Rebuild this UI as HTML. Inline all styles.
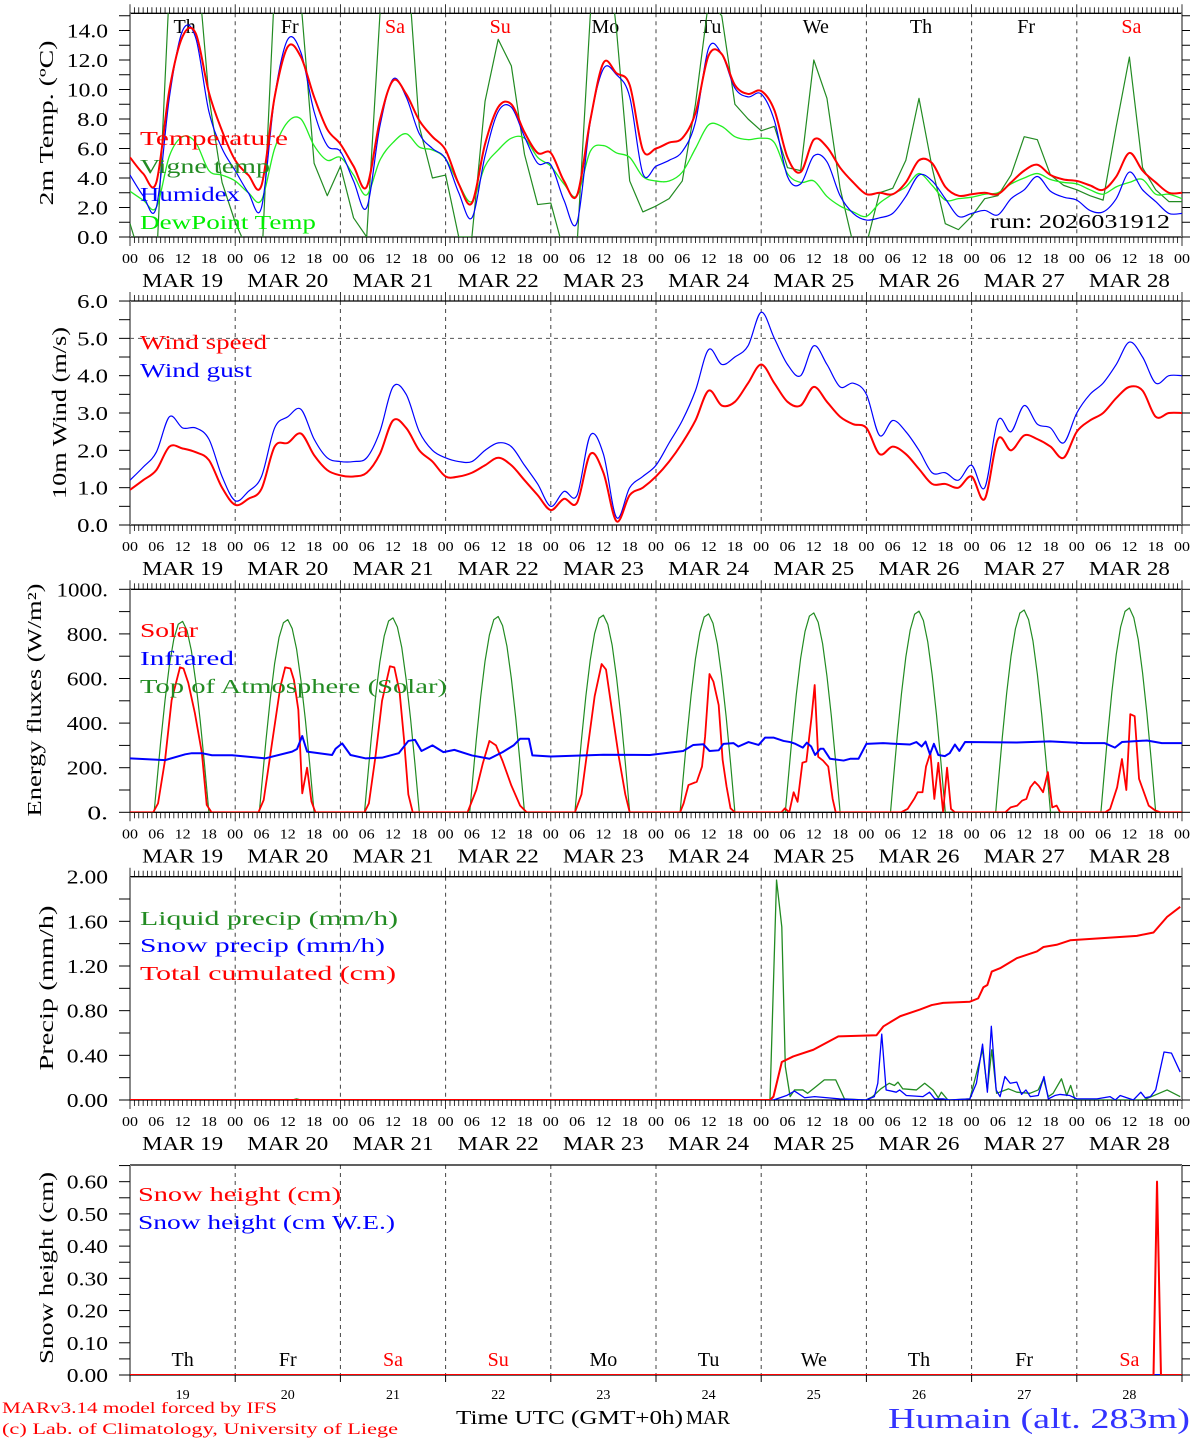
<!DOCTYPE html>
<html><head><meta charset="utf-8"><title>Humain forecast</title>
<style>
html,body{margin:0;padding:0;background:#fff;}
svg{display:block;font-family:"Liberation Serif","DejaVu Serif",serif;}
</style></head>
<body>
<svg id="chart" width="1194" height="1440" viewBox="0 0 1194 1440" xmlns="http://www.w3.org/2000/svg">
<defs>
<clipPath id="c1"><rect x="130" y="13.3" width="1052" height="223.7"/></clipPath>
<clipPath id="c2"><rect x="130" y="301" width="1052" height="224"/></clipPath>
<clipPath id="c3"><rect x="130" y="589.3" width="1052" height="223"/></clipPath>
<clipPath id="c4"><rect x="130" y="876.7" width="1052" height="223.3"/></clipPath>
<clipPath id="c5"><rect x="130" y="1165" width="1052" height="210"/></clipPath>
</defs>
<g id="axes"></g>
<g id="marks"></g>

<text transform="translate(53,123) rotate(-90)" text-anchor="middle" font-size="20" textLength="165" lengthAdjust="spacingAndGlyphs">2m Temp. (ºC)</text>
<text transform="translate(66,413) rotate(-90)" text-anchor="middle" font-size="20" textLength="172" lengthAdjust="spacingAndGlyphs">10m Wind (m/s)</text>
<text transform="translate(41,700) rotate(-90)" text-anchor="middle" font-size="20" textLength="233" lengthAdjust="spacingAndGlyphs">Energy fluxes (W/m²)</text>
<text transform="translate(53,988) rotate(-90)" text-anchor="middle" font-size="20" textLength="165" lengthAdjust="spacingAndGlyphs">Precip (mm/h)</text>
<text transform="translate(53,1268) rotate(-90)" text-anchor="middle" font-size="20" textLength="192" lengthAdjust="spacingAndGlyphs">Snow height (cm)</text>

<g font-size="20">
<text x="140" y="145" fill="#ff0000" textLength="148" lengthAdjust="spacingAndGlyphs">Temperature</text>
<text x="140" y="173" fill="#228b22" textLength="130" lengthAdjust="spacingAndGlyphs">Vigne temp</text>
<text x="140" y="201" fill="#0000ff" textLength="100" lengthAdjust="spacingAndGlyphs">Humidex</text>
<text x="140" y="229" fill="#00ee00" textLength="176" lengthAdjust="spacingAndGlyphs">DewPoint Temp</text>
<text x="990" y="228" fill="#000" textLength="180" lengthAdjust="spacingAndGlyphs">run: 2026031912</text>
<text x="140" y="349" fill="#ff0000" textLength="127" lengthAdjust="spacingAndGlyphs">Wind speed</text>
<text x="140" y="377" fill="#0000ff" textLength="112" lengthAdjust="spacingAndGlyphs">Wind gust</text>
<text x="140" y="637" fill="#ff0000" textLength="58" lengthAdjust="spacingAndGlyphs">Solar</text>
<text x="140" y="665" fill="#0000ff" textLength="94" lengthAdjust="spacingAndGlyphs">Infrared</text>
<text x="140" y="693" fill="#228b22" textLength="307" lengthAdjust="spacingAndGlyphs">Top of Atmosphere (Solar)</text>
<text x="140" y="925" fill="#228b22" textLength="258" lengthAdjust="spacingAndGlyphs">Liquid precip (mm/h)</text>
<text x="140" y="952" fill="#0000ff" textLength="245" lengthAdjust="spacingAndGlyphs">Snow precip (mm/h)</text>
<text x="140" y="980" fill="#ff0000" textLength="256" lengthAdjust="spacingAndGlyphs">Total cumulated (cm)</text>
<text x="138" y="1201" fill="#ff0000" textLength="203" lengthAdjust="spacingAndGlyphs">Snow height (cm)</text>
<text x="138" y="1229" fill="#0000ff" textLength="257" lengthAdjust="spacingAndGlyphs">Snow height (cm W.E.)</text>
</g>

<text x="2" y="1413" font-size="16" fill="#ff0000" textLength="275" lengthAdjust="spacingAndGlyphs">MARv3.14 model forced by IFS</text>
<text x="2" y="1434" font-size="16" fill="#ff0000" textLength="396" lengthAdjust="spacingAndGlyphs">(c) Lab. of Climatology, University of Liege</text>
<text x="456" y="1424" font-size="20" fill="#000" textLength="227" lengthAdjust="spacingAndGlyphs">Time UTC (GMT+0h)</text>
<text x="686" y="1424" font-size="20" fill="#000" textLength="44" lengthAdjust="spacingAndGlyphs">MAR</text>
<text x="888" y="1428" font-size="29" fill="#3333ff" textLength="302" lengthAdjust="spacingAndGlyphs">Humain (alt. 283m)</text>
</svg>

<script>
// ---------- DATA ----------
const weekdays = ["Th","Fr","Sa","Su","Mo","Tu","We","Th","Fr","Sa"];
const dayNumbers = ["19","20","21","22","23","24","25","26","27","28"];
const hourLabels = ["00","06","12","18"];
const temperature = [5.4,4.3,3.7,10.0,13.6,13.8,9.8,7.2, 5.2,4.2,3.5,9.5,12.9,12.2,9.5,7.3, 6.3,4.8,3.4,7.9,10.6,9.7,7.9,6.8, 5.9,3.6,2.3,6.3,8.8,9.0,7.1,5.7, 5.7,3.8,2.85,7.9,11.8,11.1,10.3,5.9, 6.0,6.4,6.7,8.4,12.3,12.4,10.3,9.7, 9.9,8.6,5.4,4.4,6.6,6.1,4.7,3.7, 2.9,3.0,2.9,3.7,5.2,5.0,3.4,2.8, 2.9,3.0,2.9,3.7,4.5,4.9,4.2,3.9, 3.8,3.5,3.2,4.1,5.7,4.5,3.7,3.0, 3.0];
const vigneTemp = [0.9,-2,-2,17,24,20,9.5,3.7, 1.0,-1,-2,17,24,16,5.0,2.8, 4.8,1.3,0,15,24,20,7.5,4.0, 4.2,0,0,9.2,13.4,11.6,5.6,2.2, 2.3,-1,-0.5,15,22,14,3.8,1.7, 2.1,2.6,3.8,9.0,16,15,9.0,8.0, 7.2,7.5,4.7,4.5,12,9.4,3.3,-0.5, -0.5,3.0,3.3,5.2,9.4,4.7,0.9,0.5, 1.4,2.6,2.8,4.2,6.8,6.6,4.2,3.5, 3.2,2.8,2.5,7.5,12.2,4.7,3.2,2.4, 2.4];
const humidex = [4.2,2.8,2.0,9.5,14.0,13.5,8.5,6.0, 4.5,3.0,2.0,9.5,13.4,12.5,8.5,6.2, 5.8,3.8,2.0,7.5,10.7,9.5,7.0,6.0, 5.3,3.0,1.3,5.5,8.5,8.8,6.8,5.0, 4.9,2.5,1.0,7.8,11.4,11.0,9.5,4.3, 4.8,5.2,5.8,7.8,12.8,12.4,10.1,9.5, 9.7,7.9,4.1,3.6,5.5,5.1,2.8,1.6, 1.15,1.3,1.6,2.75,4.2,3.8,2.6,1.4, 1.6,1.8,1.5,2.6,3.2,4.1,3.1,2.7, 2.5,1.8,1.7,2.6,4.4,3.2,2.4,1.6, 1.6];
const dewPoint = [3.1,2.5,2.0,5.5,6.8,6.4,4.5,4.2, 3.8,3.0,2.5,6.0,7.8,8.0,6.2,5.2, 5.4,4.2,2.85,5.2,6.4,7.0,6.1,5.9, 5.3,3.6,2.4,4.8,5.9,6.7,6.7,5.4, 4.8,3.6,2.8,5.8,6.2,5.7,5.4,4.1, 3.8,3.8,4.4,6.0,7.6,7.5,6.8,6.6, 6.7,6.4,4.3,3.7,3.8,2.75,2.1,1.7, 1.4,2.3,2.9,3.4,4.3,3.5,2.5,2.6, 2.7,2.9,3.0,3.6,4.0,4.3,3.9,3.7, 3.6,3.2,2.9,3.4,3.7,3.9,2.9,2.9, 2.6];
const windSpeed = [0.94,1.2,1.47,2.1,2.05,1.95,1.74,1.0, 0.54,0.7,0.97,2.1,2.2,2.45,1.87,1.47, 1.33,1.3,1.4,1.9,2.8,2.6,2.0,1.7, 1.3,1.3,1.4,1.6,1.8,1.6,1.2,0.8, 0.4,0.7,0.6,1.9,1.4,0.1,0.8,1.0, 1.3,1.7,2.2,2.8,3.6,3.2,3.3,3.8, 4.3,3.8,3.3,3.2,3.7,3.3,2.9,2.7, 2.6,1.9,2.1,1.9,1.5,1.1,1.1,1.0, 1.3,0.7,2.3,2.0,2.4,2.3,2.1,1.8, 2.5,2.8,3.0,3.4,3.7,3.6,2.9,3.0, 3.0];
const windGust = [1.2,1.55,1.95,2.9,2.6,2.6,2.3,1.3, 0.65,0.9,1.3,2.6,2.9,3.1,2.3,1.8, 1.7,1.7,1.8,2.5,3.7,3.5,2.5,2.0, 1.8,1.7,1.7,2.0,2.2,2.1,1.6,1.1, 0.5,0.9,0.8,2.4,1.9,0.2,1.0,1.3, 1.6,2.2,2.8,3.6,4.7,4.3,4.5,4.8, 5.7,5.0,4.3,4.0,4.8,4.3,3.7,3.8, 3.5,2.4,2.8,2.5,2.0,1.4,1.4,1.2, 1.6,1.0,2.8,2.5,3.2,2.7,2.6,2.2, 3.0,3.5,3.8,4.3,4.9,4.5,3.8,4.0, 4.0];
const solarHours = [0,5.3,6.4,8,9.5,11.4,12.2,13.3,14.8,16.4,17.5,18.6, 29.3,30.5,32.4,34.3,35.4,36.6,37.4,38.4,39.3,40.4,41.4,42.3, 53.5,54.5,56,57.5,59.3,60.3,61.5,62.5,63.5,64.5, 77,79,80.5,82,83.5,85,87,89,90.5, 101.5,103,104.5,106,107.6,108.6,110,111.5,113,114, 125.5,126.3,127.4,129.3,130.5,131.2,132.2,133.1,134.3,135.2,136.1,137,138, 148.6,149.4,150.4,151.4,152.3,153.4,154.3,155.5,156.2,157,158.1,159.3,160.3,161, 175.9,177.4,178.9,179.7,180.8,181.6,182.6,183.5,184.4,185.5,186.4,187.3,188.2, 199.7,200.9,202.4,203.5,204.5,205.4,206.4,207.3,208.3,209.4,210.4,211.4,212.2, 222.5,223.6,225.2,226.3,227.3,228.2,229.2,230.2,232.4,233.9,235.1,240];
const solarValues = [0,0,40,235,503,650,645,580,445,266,33,0, 0,55,310,563,650,645,593,460,85,200,48,0, 0,40,250,500,655,650,540,330,80,0, 0,100,220,320,300,230,120,30,0, 0,80,300,520,665,640,450,250,80,0, 0,40,122,137,205,339,620,586,481,235,115,18,0, 0,18,0,90,47,222,228,429,571,249,232,205,60,0, 0,15,60,90,90,205,267,60,222,0,200,15,0, 0,22,30,52,60,112,137,119,90,180,22,30,0, 0,15,112,239,100,440,431,150,30,8,0,0];
const infraredHours = [0,8,12.6,14.1,16.4,18.7,23.3,30.9,37,38.1,39.3,40.4,46.1,46.9,48.4,50.3,53.7,57.5,61.3,63.5,65,66.5,69,71.5,74,78,82,85,87.5,89,91,91.8,96,108,118.6,126.2,128.5,130.8,132.2,134.3,135.4,137.7,138.8,141.1,143.4,144.9,146.8,149.1,150.6,151.8,153.5,154.4,155.4,156.3,157.5,158.2,159.7,162.8,164.3,166.2,168,171.8,177.9,179.4,180.6,181.5,182.5,183.4,184.4,185.9,187,188.2,189.2,190.5,202.3,209.9,217.5,222.4,224.7,226.3,232,235.4,240];
const infraredValues = [242,234,260,265,265,256,256,242,272,284,342,272,257,285,309,257,242,245,265,320,325,275,300,270,280,255,240,270,300,330,330,255,250,258,257,275,302,305,275,278,307,310,295,315,302,335,335,320,315,307,290,312,295,257,285,285,240,232,240,240,307,310,304,315,295,317,260,307,257,252,265,304,275,315,313,318,310,310,290,315,322,310,310];
const toaHoursOfDay = [5.5,6,7,8,9,10,11,12,13,14,15,16,17,18];
const toaValues = [
 [0,107,316,504,662,777,843,856,816,725,585,414,214,0],
 [0,108,319,509,668,784,850,864,824,732,591,417,216,0],
 [0,109,322,514,674,791,858,872,831,739,596,421,218,0],
 [0,110,324,517,678,796,864,878,837,744,600,424,219,0],
 [0,111,326,521,683,802,870,884,843,749,604,427,221,0],
 [0,112,328,524,688,807,876,890,848,754,608,430,222,0],
 [0,112,330,527,691,811,880,894,852,757,611,432,223,0],
 [0,113,333,532,697,818,888,902,860,764,617,436,225,0],
 [0,114,335,534,701,823,893,907,864,768,620,438,226,0],
 [0,115,338,540,708,831,901,916,873,776,626,442,229,0]];
const cumHours = [0,146,146.8,148.7,151.3,155.9,161.6,170.3,171.9,175.7,180.2,182.9,185.5,191.6,193.5,194.7,195.6,196.6,198.5,202.3,206.9,208.4,211.4,214.5,229.7,233.5,236.6,239.6];
const cumValues = [0,0,0.03,0.34,0.39,0.45,0.57,0.58,0.66,0.75,0.81,0.85,0.87,0.88,0.91,1.01,1.03,1.15,1.18,1.27,1.33,1.37,1.39,1.43,1.47,1.50,1.64,1.73];
const liquidHours = [0,37,38,39,146,147.5,148.7,149.5,150.6,151.6,153.5,154.6,156.5,158.4,161,163,167.9,169.4,171.3,173.2,174.4,175.2,176.3,179.4,181.3,183.2,184.4,185.1,186.6,191.6,194.5,195.6,196.6,197.7,200.4,202.3,205.3,207.2,208.4,209.5,210.6,212.5,213.7,214.6,215.6,231.2,236.6,239.6];
const liquidValues = [0,0,0.01,0,0,1.97,1.55,0.30,0.03,0.09,0.09,0.06,0.12,0.18,0.18,0.01,0,0.03,0.1,0.15,0.13,0.16,0.1,0.09,0.15,0.09,0.02,0.07,0,0.01,0.45,0.09,0.45,0.06,0.1,0.07,0.06,0.09,0.19,0.03,0.06,0.19,0.04,0.13,0,0,0.09,0.03];
const snowHours = [0,146.8,149.8,151.6,153.9,156.2,161.9,167.9,169.8,170.6,171.5,172.5,174.8,175.6,177.1,180.9,182.4,183.6,185.5,187,191.6,193.1,194.5,195.6,196.5,197.6,198.5,199.6,200.8,202.3,203.4,204.4,205.4,207.2,208.5,209.5,211,212.2,214.4,216,220.6,223.6,224.8,225.9,228.9,230.6,231.6,232.8,234,235.9,237.6,239.6];
const snowValues = [0,0,0.04,0.08,0.02,0.03,0.01,0,0.03,0.15,0.59,0.09,0.07,0.09,0.04,0.03,0.07,0.01,0.01,0,0.01,0.15,0.5,0.07,0.66,0.09,0.03,0.21,0.15,0.16,0.05,0.09,0.03,0.04,0.21,0.01,0.04,0.05,0.04,0.01,0.01,0.03,0,0.04,0,0.07,0.02,0.03,0.09,0.43,0.42,0.25];
const snowHeightHours = [0,233.5,234.3,235.2,240];
const snowHeightValues = [0,0,0.6,0,0];
const snowWEHours = [0,240];
const snowWEValues = [0,0];

// ---------- LAYOUT ----------
const X0 = 130, X1 = 1182, NDAYS = 10;
const DAYW = (X1 - X0) / NDAYS;
function xOf(h){ return X0 + h * DAYW / 24; }
const panels = [
 {top:13.3, bot:237, zero:237, ppu:14.75, clip:"c1", ticks:[0,2,4,6,8,10,12,14], minor:1, fmt:v=>v.toFixed(1), name:"temp"},
 {top:301, bot:525, zero:525, ppu:37.33, clip:"c2", ticks:[0,1,2,3,4,5,6], minor:0.5, fmt:v=>v.toFixed(1), name:"wind"},
 {top:589.3, bot:812.3, zero:812.3, ppu:0.223, clip:"c3", ticks:[0,200,400,600,800,1000], minor:100, fmt:v=>v.toFixed(0)+".", name:"energy"},
 {top:876.7, bot:1100, zero:1100, ppu:111.67, clip:"c4", ticks:[0,0.4,0.8,1.2,1.6,2.0], minor:0.2, fmt:v=>v.toFixed(2), name:"precip"},
 {top:1165, bot:1375, zero:1375, ppu:322.2, clip:"c5", ticks:[0,0.1,0.2,0.3,0.4,0.5,0.6], minor:0.05, fmt:v=>v.toFixed(2), name:"snow"}
];
function yOf(p, v){ return p.zero - v * p.ppu; }

const NS = "http://www.w3.org/2000/svg";
const axes = document.getElementById("axes");
const marks = document.getElementById("marks");
function mk(tag, attrs, parent){
  const e = document.createElementNS(NS, tag);
  for (const k in attrs) e.setAttribute(k, attrs[k]);
  parent.appendChild(e);
  return e;
}
function line(x1,y1,x2,y2,stroke,w,parent,dash){
  const a = {x1:x1,y1:y1,x2:x2,y2:y2,stroke:stroke,"stroke-width":w};
  if (dash) a["stroke-dasharray"] = dash;
  return mk("line", a, parent);
}
function txt(x,y,s,size,anchor,fill,parent,len){
  const a = {x:x,y:y,"font-size":size,"text-anchor":anchor,fill:fill};
  if (len){ a.textLength = len; a.lengthAdjust = "spacingAndGlyphs"; }
  const t = mk("text", a, parent);
  t.textContent = s;
  return t;
}

// ---------- AXES ----------
panels.forEach((p, pi) => {
  const g = mk("g", {}, axes);
  
  
  for (let d = 1; d < NDAYS; d++){
    const sep = line(xOf(d*24), p.top, xOf(d*24), p.bot, "#444", 1, g, "4,4");
    
    
  }
  const top = line(X0, p.top, X1, p.top, "#000", 1.3, g);
  
  
  const bot = line(X0, p.bot, X1, p.bot, "#000", 1.3, g);
  
  
  const l = line(X0, p.top, X0, p.bot, "#888", 2, g);
  
  
  const r = line(X1, p.top, X1, p.bot, "#888", 2, g);
  
  
  const vmax = (p.bot - p.top) / p.ppu;
  for (let v = 0; v <= vmax + 1e-6; v += p.minor){
    const y = yOf(p, v);
    line(X0-11, y, X0, y, "#000", 1, g);
    line(X1, y, X1+8, y, "#000", 1, g);
  }
  p.ticks.forEach(v => {
    const s = p.fmt(v);
    const t = txt(108, yOf(p, v) + 7, s, 20, "end", "#000", g, s.length * 10.3);
    
    
  });
  if (pi < 4){
    for (let h = 0; h <= NDAYS*24; h++){
      const x = xOf(h);
      const len = (h % 24 === 0) ? 9 : 6;
      line(x, p.top - len, x, p.top, "#000", 0.8, g);
      line(x, p.bot, x, p.bot + len, "#000", 0.8, g);
    }
    for (let h = 0; h <= NDAYS*24; h += 6){
      const t = txt(xOf(h), p.bot + 26, hourLabels[(h/6)%4], 14, "middle", "#000", g, 16);
      
      
    }
    for (let d = 0; d < NDAYS; d++){
      const t = txt(xOf(d*24+12), p.bot + 50, "MAR " + dayNumbers[d], 20, "middle", "#000", g, 81);
      
      
    }
  } else {
    for (let d = 0; d <= NDAYS; d++){
      line(xOf(d*24), p.bot, xOf(d*24), p.bot + 7, "#000", 1, g);
    }
    for (let d = 0; d < NDAYS; d++){
      const t = txt(xOf(d*24+12), p.bot + 24, dayNumbers[d], 14, "middle", "#000", g);
      
      
      const w = txt(xOf(d*24+12), 1366, weekdays[d], 20, "middle", (weekdays[d]==="Sa"||weekdays[d]==="Su") ? "#ff0000" : "#000", g);
      
      
    }
  }
});
weekdays.forEach((w, d) => {
  const t = txt(xOf(d*24+12)+2, 33, w, 20, "middle", (w==="Sa"||w==="Su") ? "#ff0000" : "#000", axes);
  
  
});
const ref = line(X0, yOf(panels[1], 5), X1, yOf(panels[1], 5), "#555", 1, axes, "4,4");



// ---------- SERIES ----------
function drawSeries(p, hours, values, color, width, name, smooth){
  const P = values.map((v, i) => [xOf(hours(i)), yOf(p, v)]);
  let d;
  if (smooth){
    d = "M" + P[0][0].toFixed(2) + "," + P[0][1].toFixed(2);
    for (let i = 0; i < P.length - 1; i++){
      const p0 = P[Math.max(0, i-1)], p1 = P[i], p2 = P[i+1], p3 = P[Math.min(P.length-1, i+2)];
      const c1x = p1[0] + (p2[0]-p0[0])/6, c1y = p1[1] + (p2[1]-p0[1])/6;
      const c2x = p2[0] - (p3[0]-p1[0])/6, c2y = p2[1] - (p3[1]-p1[1])/6;
      d += " C" + c1x.toFixed(2) + "," + c1y.toFixed(2) + " " + c2x.toFixed(2) + "," + c2y.toFixed(2) + " " + p2[0].toFixed(2) + "," + p2[1].toFixed(2);
    }
  } else {
    d = "M" + P.map(q => q[0].toFixed(2) + "," + q[1].toFixed(2)).join(" L");
  }
  const g = mk("g", {"clip-path":"url(#" + p.clip + ")"}, marks);
  const pl = mk("path", {d:d, fill:"none", stroke:color, "stroke-width":width, "stroke-linejoin":"round"}, g);
  
  
}
const every3 = i => i * 3;
drawSeries(panels[0], every3, vigneTemp, "#228b22", 1.2, "vigne-temp-line", false);
drawSeries(panels[0], every3, dewPoint, "#22ee22", 1.3, "dewpoint-line", true);
drawSeries(panels[0], every3, humidex, "#0000ff", 1.2, "humidex-line", true);
drawSeries(panels[0], every3, temperature, "#ff0000", 2, "temperature-line", true);
drawSeries(panels[1], every3, windGust, "#0000ff", 1.2, "wind-gust-line", true);
drawSeries(panels[1], every3, windSpeed, "#ff0000", 2, "wind-speed-line", true);
const toaH = [], toaV = [];
toaValues.forEach((row, d) => row.forEach((v, j) => { toaH.push(d*24 + toaHoursOfDay[j]); toaV.push(v); }));
toaH.unshift(0); toaV.unshift(0); toaH.push(240); toaV.push(0);
drawSeries(panels[2], i => toaH[i], toaV, "#228b22", 1.2, "toa-solar-line", false);
drawSeries(panels[2], i => solarHours[i], solarValues, "#ff0000", 1.8, "solar-line", false);
drawSeries(panels[2], i => infraredHours[i], infraredValues, "#0000ff", 2, "infrared-line", false);
drawSeries(panels[3], i => liquidHours[i], liquidValues, "#228b22", 1.3, "liquid-precip-line", false);
drawSeries(panels[3], i => snowHours[i], snowValues, "#0000ff", 1.3, "snow-precip-line", false);
drawSeries(panels[3], i => cumHours[i], cumValues, "#ff0000", 2, "total-cumulated-line", false);
drawSeries(panels[4], i => snowWEHours[i], snowWEValues, "#0000ff", 2, "snow-height-we-line", false);
drawSeries(panels[4], i => snowHeightHours[i], snowHeightValues, "#ff0000", 2, "snow-height-line", false);
</script>
</body></html>
